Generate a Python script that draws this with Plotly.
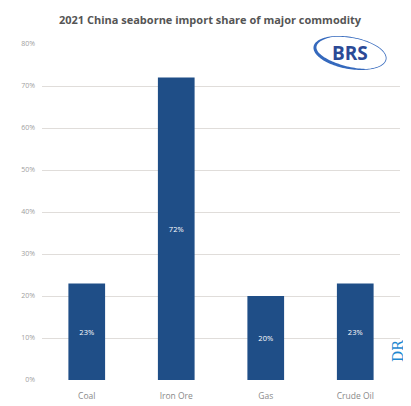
import numpy as np
import plotly.graph_objects as go

categories = ["Coal", "Iron Ore", "Gas", "Crude Oil"]
shares = [0.23, 0.72, 0.20, 0.23]
labels = ["23%", "72%", "20%", "23%"]
tick_vals = [0, 0.1, 0.2, 0.3, 0.4, 0.5, 0.6, 0.7, 0.8]
tick_text = ["0%", "10%", "20%", "30%", "40%", "50%", "60%", "70%", "80%"]

W, H = 403, 398
ML, MR, MT, MB = 34, 11, 36, 26
PW, PH = W - ML - MR, H - MT - MB


def to_paper(px, py):
    # page pixel (with 8px body offset) -> paper coords
    fx, fy = px - 8, py - 8
    return (fx - ML) / PW, (H - MB - fy) / PH


fig = go.Figure(go.Bar(
    x=categories, y=shares, text=labels,
    textposition="inside", insidetextanchor="middle",
    textfont=dict(color="white", size=7.5, family="Open Sans"),
    marker=dict(color="#1F4E87", line=dict(width=0)),
    width=0.41,
))

fig.update_layout(
    width=W, height=H,
    margin=dict(l=ML, r=MR, t=MT, b=MB),
    paper_bgcolor="white", plot_bgcolor="white",
    showlegend=False,
    title=dict(text="<b>2021 China seaborne import share of major commodity</b>",
               x=202 / W, xanchor="center", y=1 - 12 / H, yanchor="middle",
               font=dict(size=11, color="#555555", family="Open Sans")),
    xaxis=dict(showgrid=False, showline=False, ticks="", ticklabelstandoff=9,
               automargin=False,
               tickfont=dict(size=8.5, color="#8a8a8a", family="Open Sans")),
    yaxis=dict(range=[0, 0.8], tickvals=tick_vals, ticktext=tick_text,
               showgrid=True, gridcolor="#e0ddda", gridwidth=1,
               zeroline=False, showline=False, ticks="", ticklabelstandoff=6,
               automargin=False,
               tickfont=dict(size=7, color="#a0a0a0", family="Open Sans")),
    uniformtext=dict(minsize=6, mode="show"),
)

# BRS logo approximation: tilted swoosh ellipse
cx, cy, a, b, rot = 350, 53, 37, 16, np.deg2rad(-10)
th = np.linspace(0, 2 * np.pi, 120)
thick = 0.8 + 2.6 * np.clip(np.cos(th - np.deg2rad(215)), 0, None)
pts_outer, pts_inner = [], []
for t, k in zip(th, thick):
    for (aa, bb, lst) in ((a, b, pts_outer), (a - k, b - k, pts_inner)):
        ex, ey = aa * np.cos(t), bb * np.sin(t)
        rx = ex * np.cos(rot) - ey * np.sin(rot)
        ry = ex * np.sin(rot) + ey * np.cos(rot)
        lst.append(to_paper(cx + rx, cy - ry))
path = "M " + " L ".join(f"{x:.4f},{y:.4f}" for x, y in pts_outer) + " Z "
path += "M " + " L ".join(f"{x:.4f},{y:.4f}" for x, y in pts_inner[::-1]) + " Z"
fig.add_shape(type="path", xref="paper", yref="paper", path=path,
              fillcolor="#3569bd", line=dict(width=0), fillrule="evenodd")
bx, by = to_paper(350, 53)
fig.add_annotation(text="<b>BRS</b>", xref="paper", yref="paper",
                   x=bx, y=by, xanchor="center", yanchor="middle", showarrow=False,
                   font=dict(size=19, color="#2b4a96", family="Open Sans"))

# DR watermark
dx, dy = to_paper(398, 351)
fig.add_annotation(text="DR", xref="paper", yref="paper",
                   x=dx, y=dy, showarrow=False, textangle=-90,
                   xanchor="center", yanchor="middle",
                   font=dict(size=14, color="#1e88d0", family="DejaVu Serif"))

fig.write_html("out.html")
